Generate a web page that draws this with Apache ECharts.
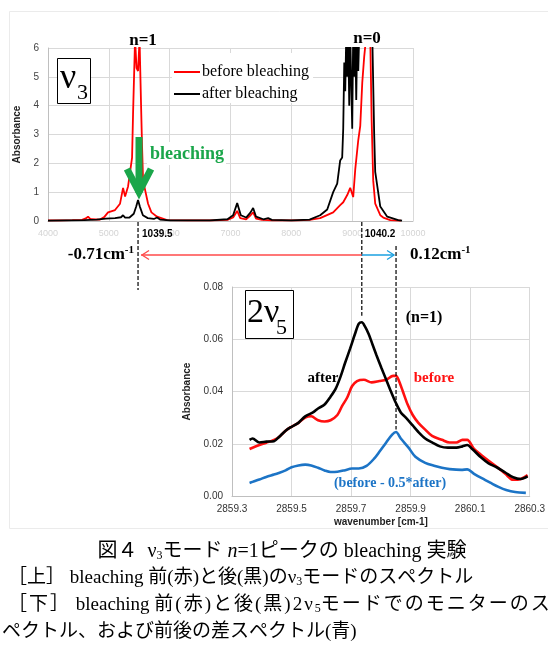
<!DOCTYPE html>
<html><head><meta charset="utf-8">
<script src="https://cdn.jsdelivr.net/npm/echarts@6/dist/echarts.min.js"></script>
<style>html,body{margin:0;padding:0;background:#fff}#c{width:548px;height:670px}</style>
</head><body><div id="c"></div>
<script>
// ---------- top chart (v3 band), x in spectrometer channel units ----------
const topXTicks = [4000, 5000, 6000, 7000, 8000, 9000, 10000];
const topYTicks = [0, 1, 2, 3, 4, 5, 6];
const topBefore = [
[4000,0.02],[4200,0.02],[4400,0.03],[4560,0.04],[4620,0.09],[4658,0.15],[4690,0.08],[4724,0.06],[4855,0.05],[4930,0.15],[4987,0.3],[5102,0.38],[5184,0.6],[5234,1.15],[5267,0.85],[5316,1.2],[5382,2.2],[5398,3.7],[5431,6.3],[5456,5.3],[5480,5.2],[5505,6.3],[5530,4.0],[5546,2.6],[5563,1.4],[5645,0.6],[5700,0.3],[5793,0.15],[5957,0.03],[6300,0.02],[6700,0.02],[6950,0.04],[7043,0.12],[7110,0.35],[7160,0.1],[7257,0.06],[7330,0.2],[7372,0.3],[7420,0.08],[7520,0.04],[7700,0.02],[8100,0.02],[8300,0.04],[8474,0.1],[8688,0.3],[8803,0.55],[8853,0.65],[8919,0.9],[8968,1.15],[9017,0.83],[9051,1.8],[9100,2.8],[9133,3.3],[9166,4.8],[9198,5.7],[9231,6.4],[9297,6.4],[9320,3.5],[9346,1.4],[9379,0.6],[9462,0.2],[9511,0.12],[9626,0.03],[9800,0.01]
];
const topAfter = [
[4000,0.01],[4300,0.02],[4600,0.03],[4800,0.05],[4950,0.08],[5102,0.1],[5200,0.13],[5234,0.2],[5267,0.12],[5340,0.12],[5410,0.25],[5450,0.5],[5480,0.73],[5510,0.5],[5560,0.2],[5640,0.1],[5740,0.07],[5793,0.12],[5842,0.05],[6007,0.02],[6660,0.02],[6950,0.06],[7043,0.2],[7110,0.62],[7170,0.2],[7257,0.12],[7330,0.3],[7372,0.45],[7420,0.15],[7540,0.06],[7619,0.1],[7680,0.04],[8000,0.02],[8300,0.05],[8474,0.2],[8590,0.4],[8688,1.0],[8754,1.3],[8803,2.1],[8836,2.2],[8853,3.2],[8870,5.5],[8886,4.5],[8903,6.5],[8919,5.0],[8935,6.5],[8952,4.0],[8968,6.5],[8985,4.8],[9001,3.2],[9017,6.5],[9034,5.0],[9051,6.5],[9067,4.2],[9083,6.5],[9100,5.2],[9116,6.5],[9330,6.5],[9362,3.0],[9379,1.7],[9462,0.5],[9577,0.15],[9757,0.03],[9820,0.01]
];
// ---------- bottom chart (2v5 band), wavenumber [cm-1] ----------
const botXTicks = [2859.3, 2859.5, 2859.7, 2859.9, 2860.1, 2860.3];
const botYTicks = [0.00, 0.02, 0.04, 0.06, 0.08];
const botBefore = [
[2859.359,0.0180],[2859.369,0.0185],[2859.392,0.0195],[2859.415,0.0204],[2859.441,0.0215],[2859.457,0.0225],[2859.480,0.0250],[2859.500,0.0265],[2859.523,0.0280],[2859.546,0.0300],[2859.566,0.0305],[2859.589,0.0290],[2859.611,0.0285],[2859.631,0.0290],[2859.654,0.0310],[2859.670,0.0345],[2859.687,0.0377],[2859.703,0.0420],[2859.720,0.0440],[2859.743,0.0445],[2859.769,0.0435],[2859.795,0.0440],[2859.818,0.0445],[2859.841,0.0460],[2859.851,0.0460],[2859.861,0.0440],[2859.874,0.0400],[2859.890,0.0350],[2859.907,0.0310],[2859.926,0.0280],[2859.949,0.0254],[2859.972,0.0230],[2860.005,0.0215],[2860.031,0.0205],[2860.054,0.0205],[2860.074,0.0215],[2860.090,0.0215],[2860.113,0.0180],[2860.136,0.0158],[2860.162,0.0135],[2860.189,0.0112],[2860.218,0.0085],[2860.244,0.0062],[2860.270,0.0065],[2860.293,0.0080]
];
const botAfter = [
[2859.359,0.0215],[2859.369,0.0220],[2859.392,0.0205],[2859.415,0.0208],[2859.441,0.0210],[2859.457,0.0225],[2859.480,0.0250],[2859.500,0.0265],[2859.523,0.0280],[2859.546,0.0305],[2859.572,0.0320],[2859.589,0.0335],[2859.611,0.0350],[2859.631,0.0380],[2859.648,0.0410],[2859.664,0.0455],[2859.680,0.0510],[2859.697,0.0565],[2859.713,0.0620],[2859.726,0.0660],[2859.736,0.0665],[2859.746,0.0650],[2859.759,0.0620],[2859.772,0.0580],[2859.785,0.0540],[2859.802,0.0490],[2859.818,0.0445],[2859.834,0.0400],[2859.851,0.0355],[2859.867,0.0320],[2859.884,0.0300],[2859.907,0.0270],[2859.926,0.0245],[2859.949,0.0220],[2859.972,0.0205],[2859.998,0.0190],[2860.025,0.0185],[2860.054,0.0185],[2860.074,0.0190],[2860.090,0.0195],[2860.107,0.0180],[2860.136,0.0148],[2860.162,0.0125],[2860.189,0.0110],[2860.218,0.0090],[2860.244,0.0072],[2860.270,0.0065],[2860.293,0.0075]
];
const botDiff = [
[2859.359,0.0050],[2859.369,0.0054],[2859.392,0.0063],[2859.415,0.0073],[2859.441,0.0082],[2859.457,0.0088],[2859.480,0.0098],[2859.500,0.0110],[2859.523,0.0117],[2859.546,0.0120],[2859.566,0.0117],[2859.589,0.0108],[2859.611,0.0098],[2859.631,0.0092],[2859.654,0.0093],[2859.677,0.0098],[2859.703,0.0105],[2859.726,0.0105],[2859.752,0.0115],[2859.779,0.0145],[2859.795,0.0169],[2859.818,0.0205],[2859.838,0.0235],[2859.851,0.0245],[2859.867,0.0220],[2859.893,0.0185],[2859.916,0.0150],[2859.949,0.0127],[2859.982,0.0115],[2860.005,0.0108],[2860.031,0.0103],[2860.070,0.0100],[2860.090,0.0102],[2860.113,0.0085],[2860.139,0.0068],[2860.169,0.0050],[2860.195,0.0035],[2860.221,0.0023],[2860.251,0.0015],[2860.287,0.0012]
];
// annotated peak positions
const topPeakN1 = 5480;          // 1039.5
const botPeakAfter = 2859.736;   // 1040.2 / after peak
const botPeakN1 = 2859.851;      // (n=1) peak

const FS = '"Liberation Serif","Noto Sans CJK JP",serif';
const SS = '"Liberation Sans",Arial,sans-serif';
const GRID = '#d9d9d9', AX = '#bfbfbf';

const chart = echarts.init(document.getElementById('c'), null, {renderer: 'canvas'});
chart.setOption({
  animation: false,
  backgroundColor: '#fff',
  legend: {
    data: ['before bleaching', 'after bleaching'],
    orient: 'vertical', left: 172, top: 53,
    padding: [11, 4, 1, 2], itemGap: 6, itemWidth: 26, itemHeight: 2,
    icon: 'rect', backgroundColor: '#fff',
    textStyle: {fontFamily: FS, fontSize: 16, color: '#000', padding: [0, 0, 0, -3]}
  },
  grid: [
    {left: 48, top: 48, width: 365, height: 173},
    {left: 232, top: 287, width: 305, height: 209}
  ],
  xAxis: [
    {gridIndex: 0, type: 'value', min: topXTicks[0], max: topXTicks[topXTicks.length-1], interval: 1000,
     axisLine: {lineStyle: {color: AX}}, axisTick: {show: false},
     axisLabel: {color: '#d4d4d4', fontSize: 9, fontFamily: SS, margin: 8, formatter: v => String(v)},
     splitLine: {lineStyle: {color: GRID}}},
    {gridIndex: 1, type: 'value', min: botXTicks[0], max: botXTicks[botXTicks.length-1], interval: 0.2,
     name: 'wavenumber [cm-1]', nameLocation: 'middle', nameGap: 21,
     nameTextStyle: {fontFamily: SS, fontSize: 10, color: '#222', fontWeight: 'bold'},
     axisLine: {lineStyle: {color: AX}}, axisTick: {show: false},
     axisLabel: {color: '#333', fontSize: 10, fontFamily: SS, margin: 8, formatter: v => v.toFixed(1)},
     splitLine: {lineStyle: {color: GRID}}}
  ],
  yAxis: [
    {gridIndex: 0, type: 'value', min: 0, max: 6, interval: 1,
     name: 'Absorbance', nameLocation: 'middle', nameGap: 10,
     nameTextStyle: {fontFamily: SS, fontSize: 10, color: '#222', fontWeight: 'bold'},
     axisLine: {show: true, lineStyle: {color: AX}}, axisTick: {show: false},
     axisLabel: {color: '#444', fontSize: 10, fontFamily: SS, margin: 9},
     splitLine: {lineStyle: {color: GRID}}},
    {gridIndex: 1, type: 'value', min: 0, max: 0.08, interval: 0.02,
     name: 'Absorbance', nameLocation: 'middle', nameGap: 24,
     nameTextStyle: {fontFamily: SS, fontSize: 10, color: '#222', fontWeight: 'bold'},
     axisLine: {show: true, lineStyle: {color: AX}}, axisTick: {show: false},
     axisLabel: {color: '#333', fontSize: 10, fontFamily: SS, margin: 9, formatter: v => v.toFixed(2)},
     splitLine: {lineStyle: {color: GRID}}}
  ],
  series: [
    {name: 'before bleaching', type: 'line', xAxisIndex: 0, yAxisIndex: 0, data: topBefore,
     showSymbol: false, color: '#ff0000', lineStyle: {width: 1.8, color: '#ff0000'}, z: 3},
    {name: 'after bleaching', type: 'line', xAxisIndex: 0, yAxisIndex: 0, data: topAfter,
     showSymbol: false, color: '#000', lineStyle: {width: 1.8, color: '#000'}, z: 4},
    {name: 'before', type: 'line', xAxisIndex: 1, yAxisIndex: 1, data: botBefore, smooth: 0.3,
     showSymbol: false, lineStyle: {width: 2.6, color: '#ff1010'}, z: 3},
    {name: 'after', type: 'line', xAxisIndex: 1, yAxisIndex: 1, data: botAfter, smooth: 0.3,
     showSymbol: false, lineStyle: {width: 2.6, color: '#000'}, z: 4},
    {name: 'before - 0.5*after', type: 'line', xAxisIndex: 1, yAxisIndex: 1, data: botDiff, smooth: 0.3,
     showSymbol: false, lineStyle: {width: 2.6, color: '#1c74c6'}, z: 5}
  ]
});

const xN1 = chart.convertToPixel({xAxisIndex: 0}, topPeakN1);
const xN0 = chart.convertToPixel({xAxisIndex: 1}, botPeakAfter);
const xB1 = chart.convertToPixel({xAxisIndex: 1}, botPeakN1);
const yAfterTop = chart.convertToPixel({yAxisIndex: 1}, 0.069);
const yDiffTop = chart.convertToPixel({yAxisIndex: 1}, 0.0255);

const txt = (x, y, text, o) => Object.assign({type: 'text', z: 20, silent: true,
  style: Object.assign({x: x, y: y, text: text, fill: '#000', font: '16px ' + FS,
    align: 'left', verticalAlign: 'middle'}, o || {})});
const line = (pts, color, w, dash) => ({type: 'polyline', z: 20, silent: true,
  shape: {points: pts}, style: {stroke: color, lineWidth: w, fill: null, lineDash: dash || null}});

const capRich = {
  a: {fontSize: 19, fontFamily: FS, color: '#000'},
  t: {fontSize: 20, fontFamily: FS, color: '#000'},
  j: {fontSize: 19, fontFamily: FS, color: '#000', padding: [0, 2, 0, 0]},
  s: {fontSize: 12, fontFamily: FS, color: '#000', padding: [8, 0, 0, 0]},
  i: {fontSize: 20, fontFamily: FS, color: '#000', fontStyle: 'italic'}
};
const supRich = {
  a: {fontSize: 17, fontFamily: FS, fontWeight: 'bold', color: '#000'},
  p: {fontSize: 11, fontFamily: FS, fontWeight: 'bold', color: '#000', padding: [0, 0, 10, 0]}
};
const spaced = s => Array.from(s).map(c => '{j|' + c + '}').join('');

const graphics = [
  {type: 'rect', z: 1, silent: true, shape: {x: 9.5, y: 11.5, width: 600, height: 517},
   style: {fill: null, stroke: '#ebebeb', lineWidth: 1}},
  // nu3 box
  {type: 'rect', z: 19, silent: true, shape: {x: 57.5, y: 58.5, width: 33, height: 45},
   style: {fill: '#fff', stroke: '#000', lineWidth: 1}},
  txt(60, 79, 'ν', {font: '36px ' + FS}),
  txt(77, 93, '3', {font: '22px ' + FS}),
  // peak labels
  txt(143, 41, 'n=1', {font: 'bold 17px ' + FS, align: 'center'}),
  txt(367, 39, 'n=0', {font: 'bold 17px ' + FS, align: 'center'}),
  // bleaching arrow
  {type: 'rect', z: 19, silent: true, shape: {x: 147, y: 142, width: 79, height: 23}, style: {fill: '#fff'}},
  txt(150, 154, 'bleaching', {font: 'bold 18px ' + FS, fill: '#1aa64a'}),
  line([[139, 137], [139, 193]], '#1aa64a', 7),
  line([[127, 169], [139, 192], [151, 169]], '#1aa64a', 7),
  // dashed markers
  line([[xN1, 222], [xN1, 290]], '#000', 1.2, [4, 2]),
  line([[xN0, 222], [xN0, yAfterTop]], '#000', 1.2, [4, 2]),
  line([[xB1, 246], [xB1, yDiffTop]], '#000', 1.2, [4, 2]),
  txt(xN1 + 4, 234, '1039.5', {font: 'bold 10px ' + SS}),
  txt(xN0 + 3, 234, '1040.2', {font: 'bold 10px ' + SS}),
  // shift arrows
  line([[xN0, 255], [xN1 + 3, 255]], '#ff4a4a', 1.3),
  line([[xN1 + 11, 250.5], [xN1 + 4, 255], [xN1 + 11, 259.5]], '#ff4a4a', 1.3),
  line([[xN0, 255], [xB1 - 2, 255]], '#1aa0e0', 1.3),
  line([[xB1 - 9, 250.5], [xB1 - 2, 255], [xB1 - 9, 259.5]], '#1aa0e0', 1.3),
  {type: 'text', z: 20, silent: true, style: {x: 134, y: 255, text: '{a|-0.71cm}{p|-1}', rich: supRich, align: 'right', verticalAlign: 'middle'}},
  {type: 'text', z: 20, silent: true, style: {x: 410, y: 255, text: '{a|0.12cm}{p|-1}', rich: supRich, align: 'left', verticalAlign: 'middle'}},
  // 2nu5 box
  {type: 'rect', z: 19, silent: true, shape: {x: 245.5, y: 290.5, width: 48, height: 48},
   style: {fill: '#fff', stroke: '#000', lineWidth: 1}},
  txt(247, 313, '2ν', {font: '34px ' + FS}),
  txt(276, 328, '5', {font: '22px ' + FS}),
  // bottom annotations
  txt(323, 378, 'after', {font: 'bold 15px ' + FS, align: 'center'}),
  txt(434, 378, 'before', {font: 'bold 15px ' + FS, align: 'center', fill: '#ff1010'}),
  txt(424, 318, '(n=1)', {font: 'bold 16px ' + FS, align: 'center'}),
  txt(390, 483, '(before - 0.5*after)', {font: 'bold 14px ' + FS, align: 'center', fill: '#1c74c6'}),
  // caption
  {type: 'text', z: 20, silent: true, style: {x: 282, y: 552, align: 'center', verticalAlign: 'middle', rich: capRich,
    text: '{t|図４  ν}{s|3}{t|モード }{i|n}{t|=1ピークの bleaching 実験}'}},
  {type: 'text', z: 20, silent: true, style: {x: 8, y: 578, align: 'left', verticalAlign: 'middle', rich: capRich,
    text: '{a|［上］ bleaching 前(赤)と後(黒)のν}{s|3}{a|モードのスペクトル}'}},
  {type: 'text', z: 20, silent: true, style: {x: 8, y: 605, align: 'left', verticalAlign: 'middle', rich: capRich,
    text: spaced('［下］') + '{a| bleaching }' + spaced('前(赤)と後(黒)2ν') + '{s|5}' + spaced('モードでのモニターのス')}},
  {type: 'text', z: 20, silent: true, style: {x: 2, y: 632, align: 'left', verticalAlign: 'middle', rich: capRich,
    text: '{a|ペクトル、および前後の差スペクトル(青)}'}}
];
chart.setOption({graphic: graphics});
</script>
</body></html>
